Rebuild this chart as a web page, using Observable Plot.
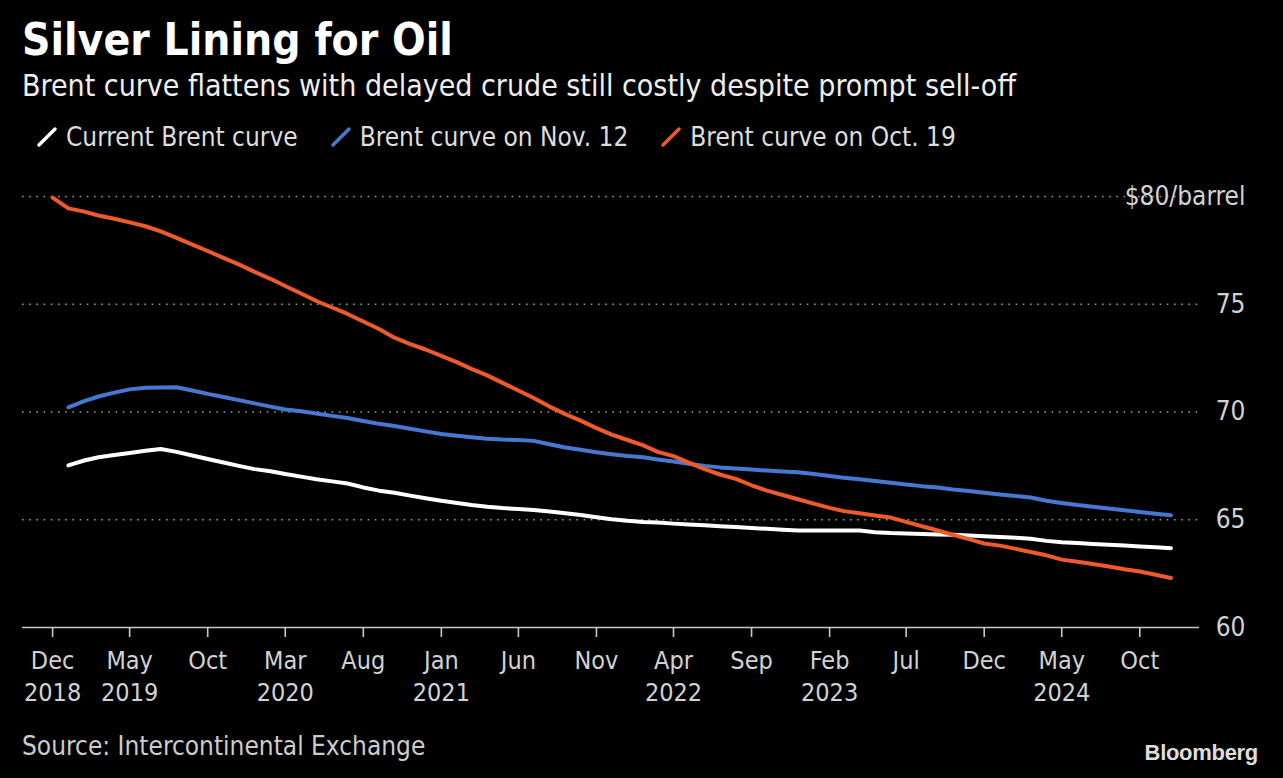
<!DOCTYPE html>
<html>
<head>
<meta charset="utf-8">
<script src="https://cdn.jsdelivr.net/npm/d3@7"></script>
<script src="https://cdn.jsdelivr.net/npm/@observablehq/plot@0.6"></script>
<style>
  html, body { margin: 0; padding: 0; background: #000; }
  body { width: 1283px; height: 778px; overflow: hidden; position: relative;
         font-family: "DejaVu Sans Condensed", "DejaVu Sans", sans-serif; color: #fff; }
  .abs { position: absolute; white-space: nowrap; }
  #title { left: 22px; top: 18px; font-size: 44px; line-height: 44px; font-weight: bold; color: #fff; }
  #subtitle { left: 22px; top: 71px; font-size: 30px; line-height: 30px; color: #eee; }
  #legend { left: 36px; top: 124px; font-size: 26px; line-height: 26px; color: #ddd; display: flex; }
  .item { display: flex; align-items: center; margin-right: 32px; }
  .item svg { margin-right: 8px; }
  #chart { left: 0; top: 160px; }
  #source { left: 22px; top: 733px; font-size: 26px; line-height: 26px; color: #ccc; }
  #brand { right: 25px; top: 742px; font-family: "Liberation Sans", Arial, sans-serif; font-weight: bold;
           font-size: 22px; line-height: 22px; color: #ddd; letter-spacing: -0.3px; }
</style>
</head>
<body>
<div id="title" class="abs">Silver Lining for Oil</div>
<div id="subtitle" class="abs">Brent curve flattens with delayed crude still costly despite prompt sell-off</div>
<div id="legend" class="abs"></div>
<div id="chart" class="abs"></div>
<div id="source" class="abs">Source: Intercontinental Exchange</div>
<div id="brand" class="abs">Bloomberg</div>
<script>
// Contract months (Dec 2018 .. Dec 2024)
const months = [
  "2018-12",
  "2019-01","2019-02","2019-03","2019-04","2019-05","2019-06","2019-07","2019-08","2019-09","2019-10","2019-11","2019-12",
  "2020-01","2020-02","2020-03","2020-04","2020-05","2020-06","2020-07","2020-08","2020-09","2020-10","2020-11","2020-12",
  "2021-01","2021-02","2021-03","2021-04","2021-05","2021-06","2021-07","2021-08","2021-09","2021-10","2021-11","2021-12",
  "2022-01","2022-02","2022-03","2022-04","2022-05","2022-06","2022-07","2022-08","2022-09","2022-10","2022-11","2022-12",
  "2023-01","2023-02","2023-03","2023-04","2023-05","2023-06","2023-07","2023-08","2023-09","2023-10","2023-11","2023-12",
  "2024-01","2024-02","2024-03","2024-04","2024-05","2024-06","2024-07","2024-08","2024-09","2024-10","2024-11","2024-12"
];

// Brent curve on Oct. 19 (starts Dec 2018)
const oct19 = [
  79.95,
  79.45,79.30,79.12,78.97,78.80,78.62,78.38,78.08,77.77,77.47,77.15,76.85,
  76.50,76.18,75.85,75.50,75.15,74.85,74.55,74.20,73.85,73.45,73.15,72.90,
  72.60,72.30,72.00,71.70,71.35,71.00,70.65,70.25,69.90,69.60,69.25,68.95,
  68.70,68.45,68.15,67.95,67.65,67.35,67.10,66.90,66.60,66.35,66.15,65.95,
  65.75,65.55,65.40,65.30,65.20,65.10,64.90,64.70,64.50,64.30,64.10,63.90,
  63.80,63.65,63.50,63.35,63.15,63.05,62.95,62.83,62.70,62.60,62.45,62.30
];

// Brent curve on Nov. 12 (starts Jan 2019)
const nov12 = [
  70.22,70.50,70.72,70.90,71.05,71.12,71.14,71.15,71.00,70.84,70.70,70.55,
  70.40,70.25,70.12,70.03,69.93,69.82,69.72,69.58,69.45,69.35,69.22,69.10,
  68.98,68.90,68.83,68.76,68.72,68.70,68.66,68.50,68.35,68.25,68.13,68.04,
  67.96,67.90,67.80,67.70,67.60,67.50,67.43,67.38,67.33,67.28,67.24,67.20,
  67.12,67.03,66.95,66.88,66.80,66.72,66.64,66.56,66.50,66.40,66.33,66.25,
  66.17,66.10,66.03,65.88,65.78,65.68,65.60,65.52,65.44,65.36,65.28,65.21
];

// Current Brent curve (starts Jan 2019)
const current = [
  67.52,67.75,67.90,68.00,68.10,68.20,68.28,68.15,67.98,67.82,67.66,67.50,
  67.35,67.25,67.12,67.00,66.88,66.78,66.68,66.50,66.35,66.25,66.12,66.00,
  65.88,65.78,65.68,65.60,65.54,65.50,65.45,65.38,65.30,65.22,65.12,65.02,
  64.95,64.90,64.87,64.82,64.78,64.74,64.70,64.66,64.62,64.58,64.54,64.50,
  64.50,64.50,64.50,64.50,64.42,64.38,64.36,64.34,64.32,64.30,64.27,64.24,
  64.20,64.16,64.12,64.02,63.96,63.92,63.88,63.84,63.80,63.76,63.72,63.68
];

const seriesNames = ["Current Brent curve", "Brent curve on Nov. 12", "Brent curve on Oct. 19"];
const seriesColors = ["#ffffff", "#4678d0", "#ef5a2b"];

const tickMonths = ["2018-12","2019-05","2019-10","2020-03","2020-08","2021-01","2021-06","2021-11","2022-04","2022-09","2023-02","2023-07","2023-12","2024-05","2024-10"];
const tickMonthLabels = ["Dec","May","Oct","Mar","Aug","Jan","Jun","Nov","Apr","Sep","Feb","Jul","Dec","May","Oct"];
const tickYearLabels = ["2018","2019","","2020","","2021","","","2022","","2023","","","2024",""];

const yTicks = [60, 65, 70, 75, 80];
const yLabels = ["60", "65", "70", "75", "$80/barrel"];
const gridValues = [65, 70, 75, 80];

const xDomain = ["2018-10-03", "2025-01-26"];

const parseMonth = d3.utcParse("%Y-%m");
const parseDay = d3.utcParse("%Y-%m-%d");

const oct19Data = oct19.map((v, i) => ({date: parseMonth(months[i]), value: v}));
const nov12Data = nov12.map((v, i) => ({date: parseMonth(months[i + 1]), value: v}));
const currentData = current.map((v, i) => ({date: parseMonth(months[i + 1]), value: v}));
const tickDates = tickMonths.map(parseMonth);

const font = '"DejaVu Sans Condensed", "DejaVu Sans", sans-serif';

const chart = Plot.plot({
  width: 1283,
  height: 560,
  marginLeft: 22,
  marginRight: 84,
  marginTop: 36,
  marginBottom: 93,
  style: {background: "transparent", fontFamily: font, overflow: "visible"},
  x: {type: "utc", domain: xDomain.map(parseDay), axis: null},
  y: {domain: [60, 80], axis: null},
  marks: [
    Plot.ruleY(gridValues, {stroke: "#9a9a9a", strokeWidth: 1.6, strokeDasharray: "1.6,5.6"}),
    Plot.ruleY([60], {stroke: "#c8c8c8", strokeWidth: 1.6}),
    Plot.axisX({ticks: tickDates, tickSize: 10, tickFormat: () => "", stroke: "#c8c8c8", strokeWidth: 1.6}),
    Plot.text(tickDates, {
      x: d => d,
      frameAnchor: "bottom",
      dy: 19,
      lineAnchor: "top",
      lineHeight: 1.28,
      fontSize: 25,
      fill: "#d2d2d2",
      text: (d, i) => tickMonthLabels[i] + (tickYearLabels[i] ? "\n" + tickYearLabels[i] : "")
    }),
    Plot.text(yTicks, {
      y: d => d,
      frameAnchor: "right",
      dx: 46,
      textAnchor: "end",
      fontSize: 26,
      fill: "#d2d2d2",
      text: (d, i) => yLabels[i]
    }),
    Plot.line(nov12Data, {x: "date", y: "value", stroke: seriesColors[1], strokeWidth: 4, strokeLinejoin: "round"}),
    Plot.line(currentData, {x: "date", y: "value", stroke: seriesColors[0], strokeWidth: 4, strokeLinejoin: "round"}),
    Plot.line(oct19Data, {x: "date", y: "value", stroke: seriesColors[2], strokeWidth: 4, strokeLinejoin: "round"})
  ]
});
document.getElementById("chart").appendChild(chart);

const legend = document.getElementById("legend");
seriesNames.forEach((name, i) => {
  const item = document.createElement("div");
  item.className = "item";
  item.innerHTML = `<svg width="22" height="22" viewBox="0 0 22 22"><line x1="3" y1="19" x2="19" y2="3" stroke="${seriesColors[i]}" stroke-width="3.5" stroke-linecap="round"/></svg><span>${name}</span>`;
  legend.appendChild(item);
});
</script>
</body>
</html>
